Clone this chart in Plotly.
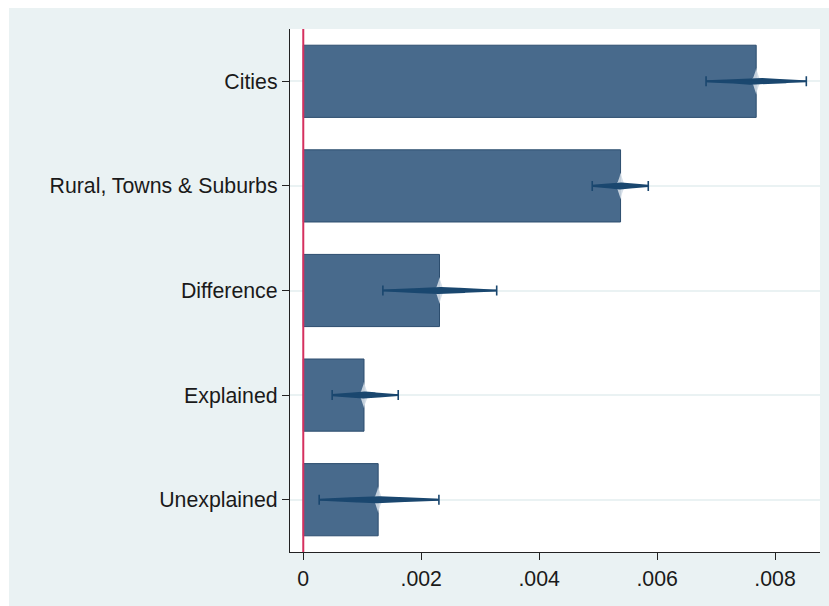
import numpy as np
import plotly.graph_objects as go

categories = ["Cities", "Rural, Towns & Suburbs", "Difference", "Explained", "Unexplained"]
estimates = [0.00768, 0.00538, 0.00231, 0.00103, 0.00127]
ci_low = [0.00683, 0.00490, 0.00135, 0.00049, 0.00027]
ci_high = [0.00853, 0.00585, 0.00328, 0.00161, 0.00230]
x_tickvals = [0, 0.002, 0.004, 0.006, 0.008]
x_ticktext = ["0", ".002", ".004", ".006", ".008"]

BAR_FILL = "#486a8c"
BAR_LINE = "#2c4d6e"
NAVY = "#1a476f"
BG = "#eaf2f3"
PX_Y = 1 / 104.6  # y units per pixel
PX_X = 0.001 / 59.05  # x units per pixel

ypos = list(range(len(categories)))

fig = go.Figure()

fig.add_trace(go.Bar(
    y=ypos, x=estimates, orientation="h", width=0.69,
    marker=dict(color=BAR_FILL, line=dict(color=BAR_LINE, width=1)),
    showlegend=False, hoverinfo="skip",
))

# spindle (sampling distribution) shapes and halo
for i, (e, lo, hi) in enumerate(zip(estimates, ci_low, ci_high)):
    sd = (hi - lo) / 3.92
    xs = np.linspace(lo, hi, 200)
    dens = np.exp(-0.5 * ((xs - e) / sd) ** 2)
    # light halo at the centre
    hx = np.linspace(-9, 9, 81)
    hh = 13 * (1 - np.abs(hx) / 9) ** 3.5 + 0.5
    fig.add_trace(go.Scatter(
        x=np.concatenate([e + hx * PX_X, (e + hx * PX_X)[::-1]]),
        y=np.concatenate([i - hh * PX_Y, (i + hh * PX_Y)[::-1]]),
        fill="toself", fillcolor="rgba(210,220,230,0.9)", mode="lines",
        line=dict(width=0), showlegend=False, hoverinfo="skip",
    ))
    half = (0.9 + 2.6 * dens ** 1.5) * PX_Y
    fig.add_trace(go.Scatter(
        x=np.concatenate([xs, xs[::-1]]),
        y=np.concatenate([i - half, (i + half)[::-1]]),
        fill="toself", fillcolor=NAVY, mode="lines",
        line=dict(width=0), showlegend=False, hoverinfo="skip",
    ))

# confidence interval caps
fig.add_trace(go.Scatter(
    y=ypos, x=estimates, mode="markers", marker=dict(size=1, color="rgba(0,0,0,0)"),
    error_x=dict(type="data", symmetric=False,
                 array=[h - e for h, e in zip(ci_high, estimates)],
                 arrayminus=[e - l for e, l in zip(estimates, ci_low)],
                 color=NAVY, thickness=1.6, width=5),
    showlegend=False, hoverinfo="skip",
))

# red reference line at zero
fig.add_shape(type="line", xref="x", yref="paper", x0=0, x1=0, y0=0, y1=1,
              line=dict(color="#d5305f", width=2), layer="above")

# white border strips (top and left) outside the light background
W, H = 829, 606
ml, mr, mt, mb = 290, 9, 29, 54
pw, ph = W - ml - mr, H - mt - mb
def px2paper_x(px):
    return (px - ml) / pw
def px2paper_y(py):
    return 1 - (py - mt) / ph
fig.add_shape(type="rect", xref="paper", yref="paper", layer="below",
              x0=px2paper_x(-5), x1=px2paper_x(9), y0=px2paper_y(H + 5), y1=px2paper_y(-5),
              fillcolor="white", line=dict(width=0))
fig.add_shape(type="rect", xref="paper", yref="paper", layer="below",
              x0=px2paper_x(-5), x1=px2paper_x(W + 5), y0=px2paper_y(8), y1=px2paper_y(-5),
              fillcolor="white", line=dict(width=0))

fig.update_layout(
    width=W, height=H,
    margin=dict(l=ml, r=mr, t=mt, b=mb, pad=0),
    paper_bgcolor=BG, plot_bgcolor="white",
    font=dict(family="Liberation Sans, Arial, sans-serif", size=21, color="#1a1a1a"),
    bargap=0.31,
    xaxis=dict(range=[-0.000225, 0.008762], tickvals=x_tickvals, ticktext=x_ticktext,
               showgrid=False, zeroline=False, showline=True, linecolor="#222",
               linewidth=1.3, ticks="outside", ticklen=7, tickcolor="#222",
               tickfont=dict(size=21.3)),
    yaxis=dict(range=[4.5, -0.5], tickvals=ypos, ticktext=categories,
               showgrid=True, gridcolor=BG, gridwidth=1.5, zeroline=False,
               showline=True, linecolor="#222", linewidth=1.3,
               ticks="outside", ticklen=7, tickcolor="#222",
               tickfont=dict(size=21.3)),
)

fig.write_html("out.html")
